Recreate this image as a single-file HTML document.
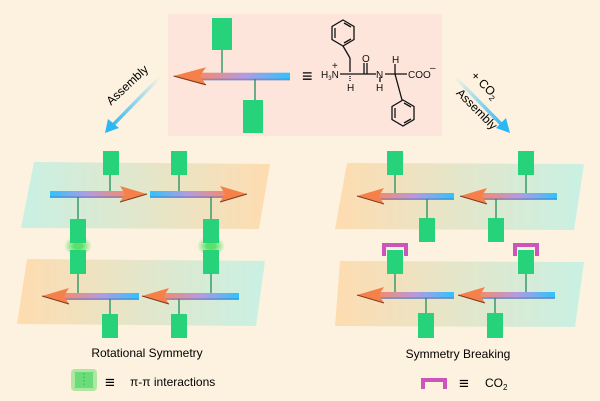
<!DOCTYPE html>
<html><head><meta charset="utf-8"><style>
html,body{margin:0;padding:0;background:#fdf2df;}
svg{display:block;font-family:"Liberation Sans",sans-serif;}
</style></head><body>
<svg width="600" height="401" viewBox="0 0 600 401" xmlns="http://www.w3.org/2000/svg">
<defs>
<linearGradient id="sh" x1="0" x2="1" y1="0" y2="0">
<stop offset="0" stop-color="#2ec3ff"/><stop offset="0.5" stop-color="#b59ae0"/><stop offset="1" stop-color="#f58a6a"/>
</linearGradient>
<linearGradient id="pTO" x1="0" x2="1"><stop offset="0" stop-color="#bff0e4"/><stop offset="1" stop-color="#ffd8a8"/></linearGradient>
<linearGradient id="pOT" x1="0" x2="1"><stop offset="0" stop-color="#ffd8a8"/><stop offset="1" stop-color="#bff0e4"/></linearGradient>
<linearGradient id="as1" x1="1" y1="0" x2="0" y2="1"><stop offset="0" stop-color="#2ab8f5" stop-opacity="0"/><stop offset="1" stop-color="#2ab8f5"/></linearGradient>
<linearGradient id="as2" x1="0" y1="0" x2="1" y2="1"><stop offset="0" stop-color="#2ab8f5" stop-opacity="0"/><stop offset="1" stop-color="#2ab8f5"/></linearGradient>
<radialGradient id="glow"><stop offset="0.3" stop-color="#5be06a"/><stop offset="1" stop-color="#5be06a" stop-opacity="0"/></radialGradient>
<g id="aR">
<rect x="0" y="-3" width="76" height="6" fill="url(#sh)"/>
<rect x="0" y="2.5" width="76" height="1.5" fill="#3a5fb0" opacity="0.6"/>
<polygon points="70,-8 97,0 70,8 75,0" fill="#f5804a"/>
<polyline points="70,8 97,0" stroke="#7a3a20" stroke-width="1" fill="none"/>
</g>
<g id="aL"><use href="#aR" transform="scale(-1,1)"/></g>
</defs>

<rect x="168" y="14" width="274" height="122" fill="#fde5dc"/>
<line x1="222" y1="50" x2="222" y2="73" stroke="#3a9a6a" stroke-width="1.5"/>
<line x1="255" y1="78" x2="255" y2="100" stroke="#3a9a6a" stroke-width="1.5"/>
<rect x="212" y="18" width="20" height="32" fill="#26d37a"/>
<rect x="243" y="100" width="20" height="33" fill="#26d37a"/>
<use href="#aL" transform="translate(290,76) scale(1.2,1.1)"/>
<text x="302" y="82" font-size="18">≡</text>
<g stroke="#111" stroke-width="1.3" fill="none">
<polygon points="343,20 354,26.5 354,39.5 343,46 332,39.5 332,26.5"/>
<line x1="335" y1="28" x2="335" y2="38"/><line x1="344" y1="23" x2="351" y2="27"/><line x1="344" y1="43" x2="351" y2="39"/>
<line x1="343" y1="46" x2="350" y2="58"/><line x1="350" y1="58" x2="350" y2="72"/>
<line x1="340" y1="74" x2="364" y2="74"/><line x1="364" y1="74" x2="376" y2="74"/>
<line x1="364" y1="74" x2="364" y2="63"/><line x1="367" y1="74" x2="367" y2="63"/>
<line x1="385" y1="74" x2="407" y2="74"/>
<line x1="380" y1="77" x2="380" y2="82"/>
<line x1="395" y1="74" x2="395" y2="64"/>
<line x1="395" y1="74" x2="402" y2="100"/>
<line x1="350" y1="76" x2="350" y2="82" stroke-dasharray="1,1"/>
<polygon points="403,100 414,106.5 414,119.5 403,126 392,119.5 392,106.5"/>
<line x1="395" y1="108" x2="395" y2="118"/><line x1="404" y1="103" x2="411" y2="107"/><line x1="404" y1="123" x2="411" y2="119"/>
</g>
<g font-size="10" fill="#111">
<text x="321" y="78">H<tspan font-size="6" dy="2">3</tspan><tspan dy="-2">N</tspan></text>
<text x="332" y="69">+</text>
<text x="362" y="62">O</text>
<text x="376" y="78">N</text>
<text x="376" y="91">H</text>
<text x="347" y="91">H</text>
<text x="392" y="63">H</text>
<text x="408" y="78">COO</text><text x="430" y="71">–</text>
</g>

<line x1="160" y1="77" x2="110" y2="128" stroke="url(#as1)" stroke-width="3.5"/>
<polygon points="105,133 108,119 119,128" fill="#2ab8f5"/>
<text x="130" y="88" font-size="12" transform="rotate(-43 130 88)" text-anchor="middle">Assembly</text>
<line x1="455" y1="77" x2="505" y2="128" stroke="url(#as2)" stroke-width="3.5"/>
<polygon points="510,133 496,128 506,118" fill="#2ab8f5"/>
<text x="482" y="88" font-size="12" transform="rotate(45 482 88)" text-anchor="middle">+ CO<tspan font-size="8" dy="3">2</tspan></text>
<text x="474" y="112" font-size="12" transform="rotate(45 474 112)" text-anchor="middle">Assembly</text>

<polygon points="34,162 270,164 259,229 21,228" fill="url(#pTO)" opacity="0.85"/>
<polygon points="27,259 265,261 256,326 17,324" fill="url(#pOT)" opacity="0.85"/>
<g stroke="#3a9a6a" stroke-width="1.5">
<line x1="110" y1="175" x2="110" y2="193"/><line x1="179" y1="175" x2="179" y2="193"/>
<line x1="78" y1="197" x2="78" y2="219"/><line x1="211" y1="197" x2="211" y2="219"/>
<line x1="78" y1="274" x2="78" y2="295"/><line x1="211" y1="274" x2="211" y2="295"/>
<line x1="110" y1="298" x2="110" y2="314"/><line x1="179" y1="298" x2="179" y2="314"/>
</g>
<use href="#aR" transform="translate(50,194)"/>
<use href="#aR" transform="translate(150,194)"/>
<use href="#aL" transform="translate(139,296)"/>
<use href="#aL" transform="translate(239,296)"/>
<ellipse cx="78" cy="246" rx="14" ry="10" fill="url(#glow)"/>
<ellipse cx="211" cy="246" rx="14" ry="10" fill="url(#glow)"/>
<g fill="#26d37a">
<rect x="103" y="151" width="16" height="24"/><rect x="171" y="151" width="16" height="24"/>
<rect x="70" y="219" width="16" height="24"/><rect x="203" y="219" width="16" height="24"/>
<rect x="70" y="250" width="16" height="24"/><rect x="203" y="250" width="16" height="24"/>
<rect x="102" y="314" width="16" height="24"/><rect x="171" y="314" width="16" height="24"/>
</g>
<text x="147" y="357" font-size="12" text-anchor="middle">Rotational Symmetry</text>

<polygon points="347,163 584,164 574,230 335,229" fill="url(#pOT)" opacity="0.85"/>
<polygon points="340,261 584,262 575,327 335,326" fill="url(#pOT)" opacity="0.85"/>
<g stroke="#3a9a6a" stroke-width="1.5">
<line x1="395" y1="175" x2="395" y2="195"/><line x1="526" y1="175" x2="526" y2="195"/>
<line x1="427" y1="199" x2="427" y2="218"/><line x1="496" y1="199" x2="496" y2="218"/>
<line x1="395" y1="274" x2="395" y2="294"/><line x1="526" y1="274" x2="526" y2="294"/>
<line x1="426" y1="298" x2="426" y2="313"/><line x1="495" y1="298" x2="495" y2="313"/>
</g>
<use href="#aL" transform="translate(454,196)"/>
<use href="#aL" transform="translate(557,196)"/>
<use href="#aL" transform="translate(454,295)"/>
<use href="#aL" transform="translate(555,295)"/>
<g fill="none" stroke="#cc55bb" stroke-width="4">
<polyline points="384,256 384,245 406,245 406,256"/>
<polyline points="515,256 515,245 537,245 537,256"/>
</g>
<g fill="#26d37a">
<rect x="387" y="151" width="16" height="24"/><rect x="518" y="151" width="16" height="24"/>
<rect x="419" y="218" width="16" height="24"/><rect x="488" y="218" width="16" height="24"/>
<rect x="387" y="250" width="16" height="24"/><rect x="518" y="250" width="16" height="24"/>
<rect x="418" y="313" width="16" height="25"/><rect x="487" y="313" width="16" height="25"/>
</g>
<text x="458" y="358" font-size="12" text-anchor="middle">Symmetry Breaking</text>

<rect x="71" y="369" width="26" height="22" rx="4" fill="#7be07a" opacity="0.6"/>
<rect x="75" y="372" width="18" height="16" fill="#6cdc7a"/>
<line x1="84" y1="373" x2="84" y2="387" stroke="#2cc24a" stroke-dasharray="1.5,2" stroke-width="1.2"/>
<text x="105" y="388" font-size="17">≡</text>
<text x="130" y="386" font-size="12">π-π interactions</text>
<polyline points="423,389 423,380 445,380 445,389" fill="none" stroke="#cc55bb" stroke-width="4"/>
<text x="459" y="389" font-size="17">≡</text>
<text x="485" y="387" font-size="12">CO<tspan font-size="8" dy="3">2</tspan></text>
</svg>
</body></html>
